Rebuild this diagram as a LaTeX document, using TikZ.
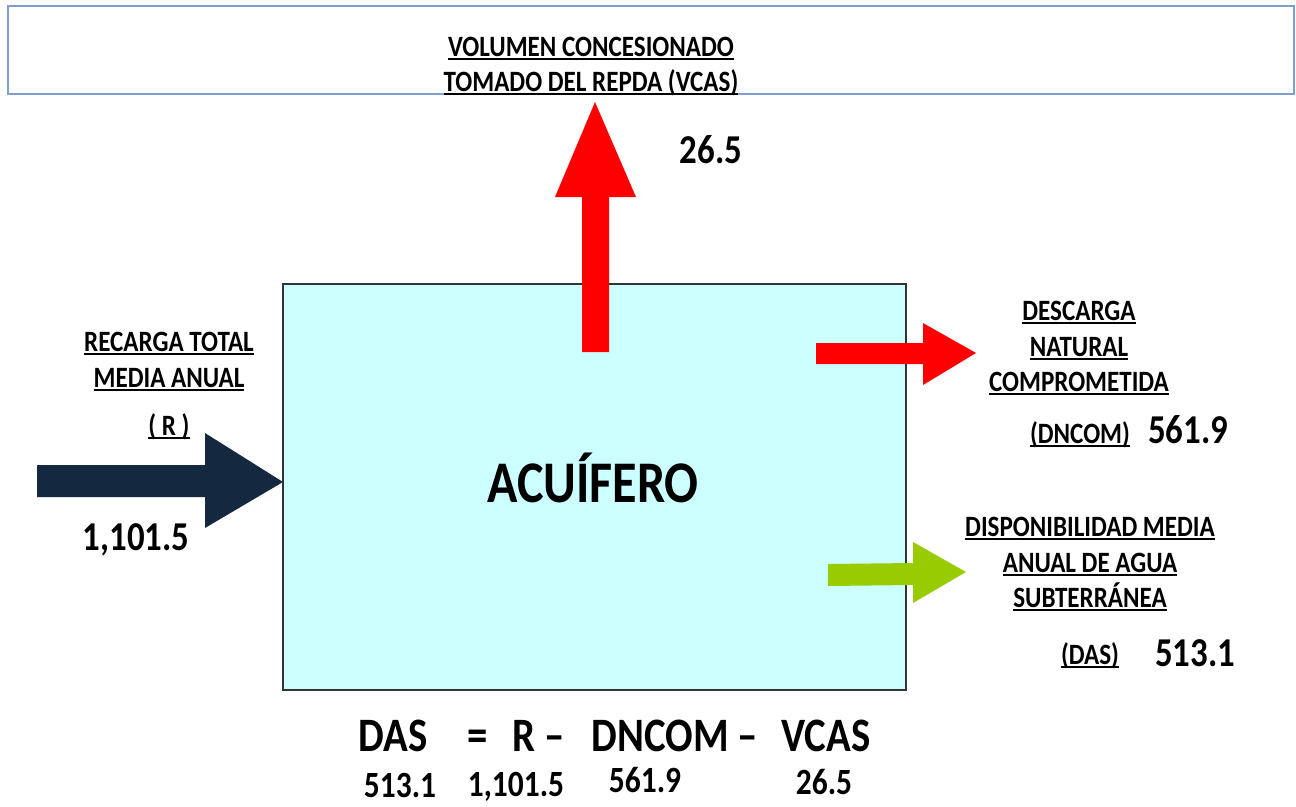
\documentclass[tikz,border=0pt]{standalone}
\usepackage{fontspec}
\setmainfont{Carlito}[FakeStretch=0.85]
\definecolor{topblue}{HTML}{7F9FCF}
\definecolor{aqfill}{HTML}{CCFFFF}
\definecolor{navy}{HTML}{142840}
\definecolor{agreen}{HTML}{99CC00}
\definecolor{ared}{HTML}{FF0000}
\newcommand\ulx[1]{\setbox0\hbox{#1}\dimen0=\wd0\rlap{\box0}\rule[-4pt]{\dimen0}{2pt}}
\begin{document}
\begin{tikzpicture}[x=1pt,y=-1pt,
  lab/.style={anchor=base,inner sep=0pt,font=\fontsize{29.5}{34}\selectfont\bfseries},
  num/.style={anchor=base,inner sep=0pt,font=\fontsize{41}{48}\selectfont\bfseries},
  frm/.style={anchor=base,inner sep=0pt,font=\fontsize{48}{56}\selectfont\bfseries},
  fnum/.style={anchor=base,inner sep=0pt,font=\fontsize{37}{44}\selectfont\bfseries}]
\useasboundingbox (0,0) rectangle (1296,806);
% top box
\node[draw=topblue,line width=1.5pt,minimum width=1286pt,minimum height=88pt,inner sep=0pt] (top) at (651,50) {};
% aquifer box
\node[draw=black!80,fill=aqfill,line width=1.2pt,minimum width=623pt,minimum height=406pt,inner sep=0pt] (aq) at (594.5,487) {};
% arrows
\fill[ared] (582,352) -- (582,197) -- (555,197) -- (595,102) -- (636,197) -- (609,197) -- (609,352) -- cycle;
\fill[ared] (816,343) -- (923,343) -- (923,323) -- (976,353) -- (923,385) -- (923,364) -- (816,364) -- cycle;
\fill[agreen] (828,564) -- (913,563) -- (913,542) -- (966,572) -- (913,603) -- (913,585) -- (828,586) -- cycle;
\fill[navy] (37,465) -- (205,465) -- (205,433) -- (283,482) -- (205,528) -- (205,497) -- (37,497) -- cycle;
% top labels
\node[lab] (t1) at (591,56) {\ulx{VOLUMEN CONCESIONADO}};
\node[lab] (t2) at (591,91) {\ulx{TOMADO DEL REPDA (VCAS)}};
\node[num] (n1) at (711,163) {26.5};
% left labels
\node[lab] (l1) at (169,351) {\ulx{RECARGA TOTAL}};
\node[lab] (l2) at (169,387) {\ulx{MEDIA ANUAL}};
\node[lab] (l3) at (169,435) {\ulx{( R )}};
\node[num] (n2) at (136,550) {1,101.5};
% right labels
\node[lab] (r1) at (1079,320) {\ulx{DESCARGA}};
\node[lab] (r2) at (1079,356) {\ulx{NATURAL}};
\node[lab] (r3) at (1079,391) {\ulx{COMPROMETIDA}};
\node[lab] (r4) at (1080,443) {\ulx{(DNCOM)}};
\node[num] (n3) at (1188,443) {561.9};
\node[lab] (d1) at (1090,536) {\ulx{DISPONIBILIDAD MEDIA}};
\node[lab] (d2) at (1090,572) {\ulx{ANUAL DE AGUA}};
\node[lab] (d3) at (1090,607) {\ulx{SUBTERRÁNEA}};
\node[lab] (d4) at (1090,664) {\ulx{(DAS)}};
\node[num] (n4) at (1195,666) {513.1};
% center
\node[anchor=base,inner sep=0pt,font=\fontsize{59}{66}\selectfont\bfseries] (ac) at (593,502) {ACUÍFERO};
% formula
\node[frm] (f1) at (393,751) {DAS};
\node[frm] (f2) at (478,751) {=};
\node[frm] (f3) at (539,751) {R –};
\node[frm] (f4) at (675,751) {DNCOM –};
\node[frm] (f5) at (826,751) {VCAS};
\node[fnum] (g1) at (400,797) {513.1};
\node[fnum] (g2) at (516,796) {1,101.5};
\node[fnum] (g3) at (645,792) {561.9};
\node[fnum] (g4) at (824,794) {26.5};
\end{tikzpicture}
\end{document}
